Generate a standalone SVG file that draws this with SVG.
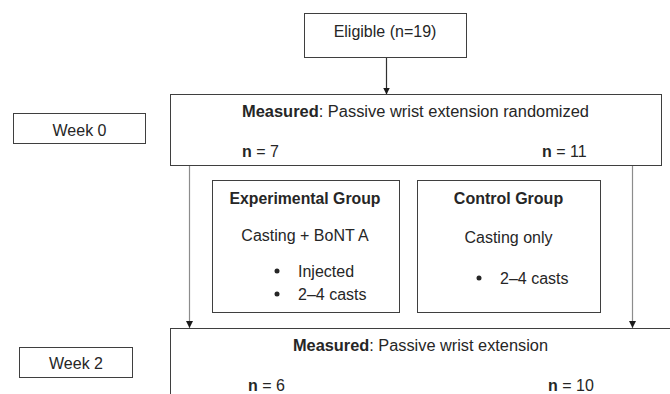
<svg xmlns="http://www.w3.org/2000/svg" width="670" height="394" viewBox="0 0 670 394">
  <style>
    .box { fill: #ffffff; stroke: #3f3f3f; stroke-width: 1; }
    .txt { font-family: "Liberation Sans", Arial, sans-serif; font-size: 16px; fill: #262626; }
    .mid { text-anchor: middle; }
    .b { font-weight: bold; }
    .link { stroke: #8c8c8c; stroke-width: 1.2; fill: none; }
    .link.dark { stroke: #303030; }
  </style>
  <defs>
    <marker id="arrow" viewBox="0 0 10 10" refX="10" refY="5" markerWidth="7" markerHeight="7" markerUnits="userSpaceOnUse" orient="auto">
      <path d="M0,0 L10,5 L0,10 Z" fill="#1a1a1a"/>
    </marker>
  </defs>
  <rect width="670" height="394" fill="#ffffff"/>

  <g id="connectors">
    <line class="link dark" x1="386.5" y1="57" x2="386.5" y2="94.5" marker-end="url(#arrow)"/>
    <line class="link" x1="189.5" y1="166" x2="189.5" y2="328" marker-end="url(#arrow)"/>
    <line class="link" x1="632.5" y1="166" x2="632.5" y2="328" marker-end="url(#arrow)"/>
  </g>

  <g id="eligible">
    <rect class="box" x="304.5" y="13.5" width="162" height="44"/>
    <text class="txt mid" x="385" y="37">Eligible (n=19)</text>
  </g>

  <g id="week0">
    <rect class="box" x="13.5" y="113.5" width="132" height="30"/>
    <text class="txt mid" x="79.5" y="136">Week 0</text>
  </g>

  <g id="measured-week0">
    <rect class="box" x="170.5" y="94.5" width="491" height="71"/>
    <text class="txt" x="242" y="117" textLength="347" lengthAdjust="spacingAndGlyphs"><tspan class="b">Measured</tspan>: Passive wrist extension randomized</text>
    <text class="txt" x="242" y="157"><tspan class="b">n</tspan> = 7</text>
    <text class="txt" x="542" y="157"><tspan class="b">n</tspan> = 11</text>
  </g>

  <g id="experimental">
    <rect class="box" x="212.5" y="180.5" width="187" height="132"/>
    <text class="txt mid b" x="305" y="204" textLength="151" lengthAdjust="spacingAndGlyphs">Experimental Group</text>
    <text class="txt mid" x="305" y="241">Casting + BoNT A</text>
    <circle cx="277" cy="271" r="2.5" fill="#262626"/>
    <text class="txt" x="298" y="277">Injected</text>
    <circle cx="277" cy="294" r="2.5" fill="#262626"/>
    <text class="txt" x="298" y="300">2–4 casts</text>
  </g>

  <g id="control">
    <rect class="box" x="417.5" y="180.5" width="183" height="132"/>
    <text class="txt mid b" x="508.5" y="204">Control Group</text>
    <text class="txt mid" x="508.5" y="243">Casting only</text>
    <circle cx="479" cy="278" r="2.5" fill="#262626"/>
    <text class="txt" x="500" y="284">2–4 casts</text>
  </g>

  <g id="week2">
    <rect class="box" x="19.5" y="347.5" width="113" height="30"/>
    <text class="txt mid" x="76" y="369">Week 2</text>
  </g>

  <g id="measured-week2">
    <rect class="box" x="170.5" y="328.5" width="520" height="80"/>
    <text class="txt" x="293" y="351" textLength="255" lengthAdjust="spacingAndGlyphs"><tspan class="b">Measured</tspan>: Passive wrist extension</text>
    <text class="txt" x="248" y="391"><tspan class="b">n</tspan> = 6</text>
    <text class="txt" x="548" y="391"><tspan class="b">n</tspan> = 10</text>
  </g>
</svg>
